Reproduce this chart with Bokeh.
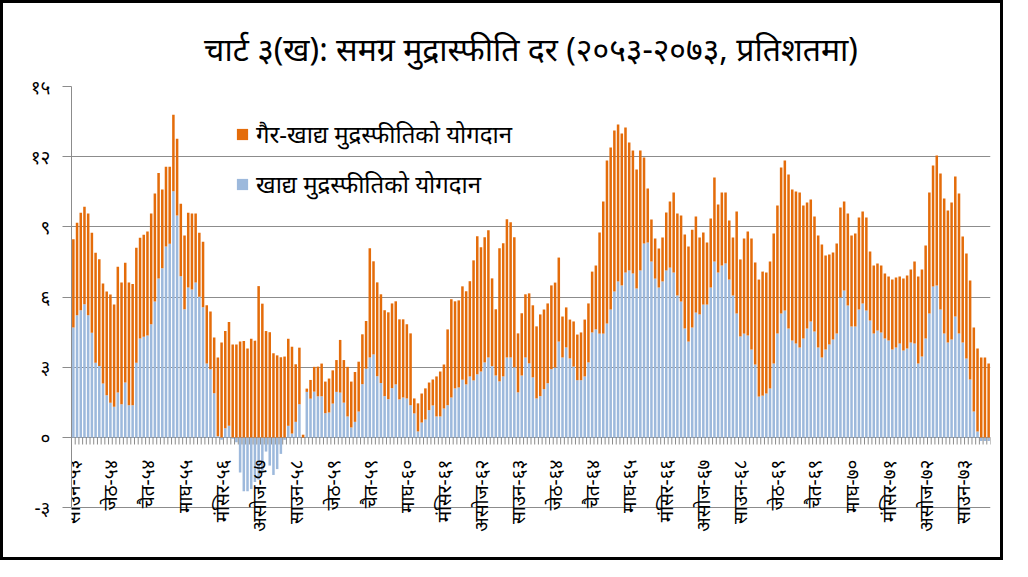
import math
import numpy as np
from bokeh.plotting import figure
from bokeh.models import (ColumnDataSource, Range1d, FixedTicker,
                          Legend, LegendItem)
from bokeh.core.properties import value
from bokeh.embed import file_html
from bokeh.resources import INLINE

# ---------------- data ----------------
# contribution of food inflation (percentage points), monthly, Shrawan 2053 onwards
food = [
    4.70, 5.22, 5.44, 5.69, 5.22, 4.48, 3.20, 3.06, 2.31, 1.81,
    1.49, 1.31, 1.92, 1.42, 2.35, 1.38, 1.38, 3.20, 4.23, 4.31,
    4.36, 4.84, 5.81, 6.80, 7.23, 8.16, 8.28, 10.52, 9.49, 6.89,
    5.48, 6.41, 6.32, 6.62, 6.02, 5.57, 3.16, 2.92, 1.89, 0.05,
    -0.10, 0.40, 0.50, -0.05, -0.20, -1.50, -2.30, -2.30, -2.20, -1.90,
    -1.80, -1.50, -0.60, -1.20, -1.60, -1.35, -0.70, -0.10, 0.50, 0.17,
    0.67, 1.42, 0.00, 1.95, 1.66, 1.96, 1.76, 1.76, 1.04, 1.07,
    1.45, 1.95, 1.92, 1.49, 0.90, 0.43, 0.67, 1.11, 2.28, 2.94,
    3.42, 3.55, 2.62, 2.33, 1.77, 1.64, 2.11, 2.27, 1.63, 1.71,
    1.67, 1.38, 1.03, 0.26, 0.64, 0.77, 1.17, 1.37, 0.90, 0.90,
    1.24, 1.38, 1.71, 2.10, 2.14, 2.47, 2.27, 2.61, 2.44, 2.70,
    2.82, 3.21, 3.42, 3.05, 2.65, 2.40, 2.61, 3.42, 3.42, 3.00,
    1.93, 2.65, 3.42, 3.17, 2.57, 1.67, 1.77, 2.07, 2.32, 2.92,
    2.99, 4.10, 3.42, 3.85, 3.38, 3.03, 2.45, 2.45, 2.61, 3.21,
    4.49, 4.62, 4.44, 4.44, 4.87, 5.47, 6.24, 6.67, 6.50, 7.05,
    7.14, 7.01, 6.37, 7.14, 8.29, 8.33, 7.52, 6.79, 6.41, 6.67,
    7.14, 7.26, 7.05, 6.07, 5.81, 4.66, 4.10, 4.70, 5.34, 5.26,
    5.68, 5.68, 6.41, 7.52, 7.05, 7.35, 7.44, 6.75, 6.07, 5.30,
    4.32, 4.44, 4.36, 3.76, 3.12, 1.75, 1.79, 1.88, 2.09, 3.16,
    4.44, 5.30, 5.43, 4.66, 4.15, 4.02, 3.85, 4.23, 4.66, 4.96,
    4.53, 3.85, 3.42, 3.76, 3.97, 4.19, 4.44, 5.98, 6.28, 5.64,
    4.74, 4.74, 5.47, 5.73, 5.43, 5.00, 4.44, 4.57, 4.49, 4.23,
    4.15, 3.76, 3.85, 4.02, 3.72, 3.80, 4.06, 4.02, 3.16, 3.46,
    4.23, 5.30, 6.45, 6.50, 5.47, 4.44, 4.06, 4.19, 5.17, 4.44,
    4.06, 3.38, 2.48, 1.11, 0.26, -0.15, -0.15, -0.15,
]

# contribution of non-food inflation (percentage points)
nonfood = [
    3.77, 3.96, 4.17, 4.17, 4.35, 4.27, 4.70, 4.56, 4.27, 4.43,
    4.62, 4.37, 5.38, 5.20, 5.12, 5.24, 5.18, 4.91, 4.31, 4.36,
    4.44, 4.73, 4.62, 4.50, 3.37, 3.41, 3.29, 3.27, 3.28, 3.10,
    3.15, 3.20, 3.25, 2.95, 2.73, 2.80, 2.49, 2.46, 2.38, 3.37,
    4.06, 4.15, 4.44, 3.98, 3.98, 4.10, 4.12, 3.80, 4.22, 4.14,
    6.47, 5.72, 4.55, 4.50, 3.60, 3.51, 3.43, 3.46, 3.72, 3.71,
    2.46, 2.42, 0.12, 0.14, 0.80, 1.06, 1.27, 1.40, 1.35, 1.45,
    1.42, 1.36, 2.25, 1.82, 2.12, 1.96, 2.13, 2.13, 2.13, 2.04,
    4.67, 3.98, 4.01, 3.79, 3.67, 3.71, 3.62, 3.55, 3.42, 3.34,
    3.17, 3.07, 0.64, 1.20, 1.24, 1.33, 1.18, 1.11, 1.71, 1.92,
    1.88, 3.24, 4.20, 3.72, 3.72, 3.99, 3.98, 4.07, 5.13, 5.90,
    5.31, 5.35, 5.44, 3.75, 2.83, 5.69, 5.69, 5.91, 5.78, 5.56,
    2.52, 2.66, 2.70, 2.99, 3.08, 3.08, 3.49, 3.40, 3.41, 3.58,
    3.63, 3.59, 1.75, 1.71, 1.66, 1.93, 1.95, 2.04, 2.43, 2.52,
    2.60, 2.73, 4.32, 5.65, 6.97, 6.92, 6.88, 6.71, 6.49, 6.20,
    5.47, 5.25, 5.08, 5.12, 3.68, 2.31, 1.80, 1.71, 1.67, 1.88,
    2.48, 2.83, 3.42, 3.50, 3.68, 4.02, 4.06, 4.18, 4.10, 3.29,
    3.08, 2.65, 2.95, 3.59, 2.91, 3.12, 3.03, 2.52, 2.48, 4.36,
    3.29, 4.06, 4.44, 4.74, 4.36, 5.00, 5.30, 5.17, 5.43, 5.56,
    5.47, 6.24, 6.41, 6.58, 6.45, 6.49, 6.62, 5.68, 5.38, 5.21,
    4.91, 4.78, 4.83, 4.02, 3.85, 3.72, 3.85, 3.85, 3.81, 3.93,
    3.89, 3.98, 3.93, 3.93, 3.97, 2.95, 2.91, 2.87, 2.86, 2.78,
    2.73, 2.99, 2.99, 2.86, 3.07, 3.12, 3.12, 3.50, 3.72, 3.72,
    3.98, 5.17, 5.17, 5.55, 5.81, 5.77, 5.64, 5.85, 5.98, 5.99,
    4.53, 4.48, 4.23, 3.59, 3.54, 3.42, 3.42, 3.16,
]

# category-axis labels (every tenth month)
tick_pos = [0, 10, 20, 30, 40, 50, 60, 70, 80, 90, 100, 110, 120,
            130, 140, 150, 160, 170, 180, 190, 200, 210, 220, 230, 240]
tick_labels = ["साउन-५३", "जेठ-५४", "चैत-५४", "माघ-५५", "मंसिर-५६",
               "असोज-५७", "साउन-५८", "जेठ-५९", "चैत-५९", "माघ-६०",
               "मंसिर-६१", "असोज-६२", "साउन-६३", "जेठ-६४", "चैत-६४",
               "माघ-६५", "मंसिर-६६", "असोज-६७", "साउन-६८", "जेठ-६९",
               "चैत-६९", "माघ-७०", "मंसिर-७१", "असोज-७२", "साउन-७३"]

y_ticks = [-3, 0, 3, 6, 9, 12, 15]
y_tick_labels = ["-३", "०", "३", "६", "९", "१२", "१५"]

title_text = "चार्ट ३(ख): समग्र मुद्रास्फीति दर (२०५३-२०७३, प्रतिशतमा)"
legend_nonfood = "गैर-खाद्य मुद्रस्फीतिको योगदान"
legend_food = "खाद्य मुद्रस्फीतिको योगदान"

# ---------------- styling ----------------
ORANGE = "#E46C0A"
BLUE = "#9DB9DC"
GRID = "#8C8C8C"
FONT = "Noto Sans"

n = len(food)
food_arr = np.array(food)
non_arr = np.array(nonfood)
base = np.maximum(food_arr, 0.0)
top = base + non_arr

src = ColumnDataSource(dict(x=list(range(n)), food=food_arr, base=base, top=top))

W, H = 1003, 560
Y0, Y1 = -4.7, 15.0
TOP_B, BOT_B = 83, 16
px_per_unit = (H - TOP_B - BOT_B) / (Y1 - Y0)

p = figure(width=W, height=H, output_backend="svg", toolbar_location=None,
           x_range=Range1d(-0.5, n - 0.5), y_range=Range1d(Y0, Y1),
           min_border_left=68, min_border_right=16, min_border_top=TOP_B,
           min_border_bottom=BOT_B)
p.styles = {"border": "3px solid black"}
p.outline_line_color = None
p.background_fill_color = "white"
p.border_fill_color = "white"

p.title.text = title_text
p.title.align = "center"
p.title.text_font = FONT
p.title.text_font_size = "32px"
p.title.text_font_style = "normal"
p.title.text_color = "black"
p.title.standoff = 33

# grid
p.xgrid.visible = False
p.ygrid.ticker = FixedTicker(ticks=y_ticks)
p.ygrid.grid_line_color = GRID
p.ygrid.grid_line_width = 1

# y axis
p.yaxis.ticker = FixedTicker(ticks=y_ticks)
p.yaxis.bounds = (y_ticks[0], y_ticks[-1])
p.yaxis.major_label_overrides = {t: s for t, s in zip(y_ticks, y_tick_labels)}
p.yaxis.axis_line_color = GRID
p.yaxis.major_tick_line_color = GRID
p.yaxis.major_tick_out = 9
p.yaxis.major_tick_in = 0
p.yaxis.minor_tick_line_color = None
p.yaxis.major_label_text_font = FONT
p.yaxis.major_label_text_font_size = "19px"
p.yaxis.major_label_text_color = "black"
p.yaxis.major_label_standoff = 12
p.xaxis.visible = False

# bars
r_food = p.vbar(x="x", bottom=0, top="food", width=0.68, source=src,
                fill_color=BLUE, line_color=None)
r_non = p.vbar(x="x", bottom="base", top="top", width=0.68, source=src,
               fill_color=ORANGE, line_color=None)

# small tick marks on the zero line between categories
bounds = np.arange(n + 1) - 0.5
p.segment(x0=bounds, y0=np.zeros(n + 1), x1=bounds,
          y1=np.full(n + 1, -7 / px_per_unit), line_color=GRID, line_width=1)

# rotated category labels hanging below the zero line
lab_src = ColumnDataSource(dict(lx=tick_pos, ly=[-22 / px_per_unit] * len(tick_pos),
                                label=tick_labels))
p.text(x="lx", y="ly", text="label", source=lab_src, angle=math.pi / 2,
       text_align="right", text_baseline="middle",
       text_font=value(FONT), text_font_size="19px", text_color="black")

legend = Legend(items=[LegendItem(label=legend_nonfood, renderers=[r_non]),
                       LegendItem(label=legend_food, renderers=[r_food])],
                location=(164, 347), background_fill_alpha=0,
                border_line_alpha=0, padding=0, margin=0, spacing=17,
                glyph_width=14, glyph_height=14, label_height=30,
                label_standoff=7, label_text_font=FONT,
                label_text_font_size="24px", label_text_color="black")
p.add_layout(legend)

open("out.html", "w").write(file_html(p, INLINE))
